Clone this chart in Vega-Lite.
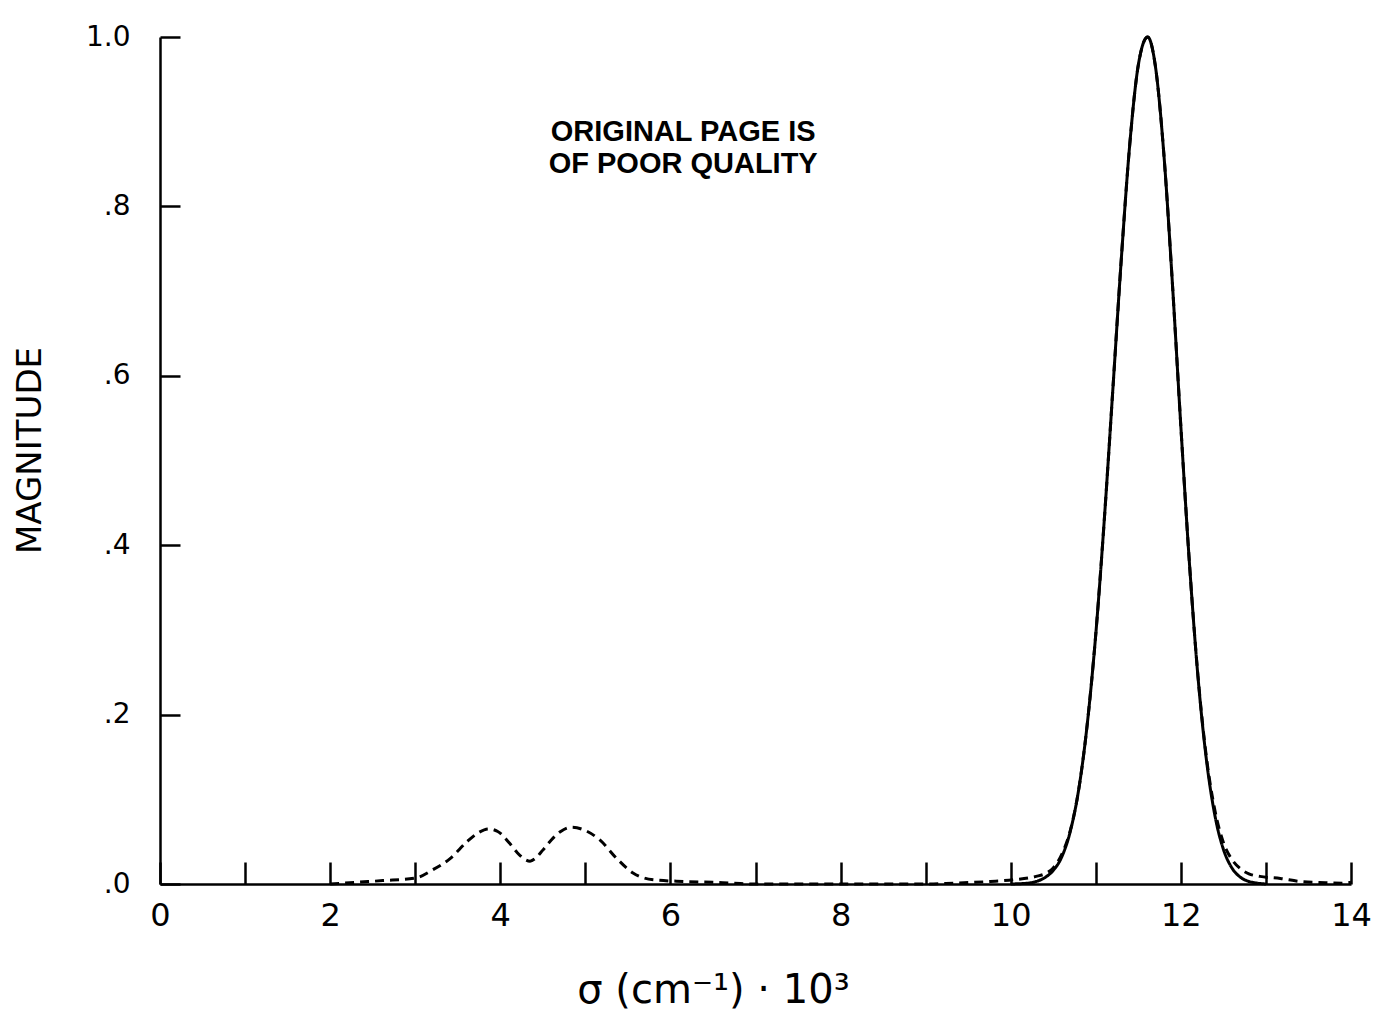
{
  "$schema": "https://vega.github.io/schema/vega-lite/v6.json",
  "autosize": "none",
  "width": 1191,
  "height": 847,
  "padding": {"left": 160, "top": 37, "right": 38, "bottom": 136},
  "background": "white",
  "config": {
    "view": {"stroke": null},
    "font": "DejaVu Sans",
    "axis": {"grid": false, "domainColor": "black", "tickColor": "black", "labelColor": "black", "titleColor": "black", "domainWidth": 2.5, "tickWidth": 2.5, "labelFont": "DejaVu Sans", "titleFont": "DejaVu Sans", "titleFontWeight": "normal"}
  },
  "datasets": {
    "curves": [
      {"series": "solid", "x": 10.0, "y": 0.0},
      {"series": "solid", "x": 10.2, "y": 0.001},
      {"series": "solid", "x": 10.3, "y": 0.003},
      {"series": "solid", "x": 10.4, "y": 0.0075},
      {"series": "solid", "x": 10.5, "y": 0.016},
      {"series": "solid", "x": 10.6, "y": 0.032},
      {"series": "solid", "x": 10.7, "y": 0.062},
      {"series": "solid", "x": 10.8, "y": 0.112},
      {"series": "solid", "x": 10.9, "y": 0.189},
      {"series": "solid", "x": 11.0, "y": 0.295},
      {"series": "solid", "x": 11.1, "y": 0.43},
      {"series": "solid", "x": 11.2, "y": 0.583},
      {"series": "solid", "x": 11.3, "y": 0.738},
      {"series": "solid", "x": 11.4, "y": 0.874},
      {"series": "solid", "x": 11.5, "y": 0.967},
      {"series": "solid", "x": 11.61, "y": 1.0},
      {"series": "solid", "x": 11.7, "y": 0.966},
      {"series": "solid", "x": 11.8, "y": 0.862},
      {"series": "solid", "x": 11.9, "y": 0.71},
      {"series": "solid", "x": 12.0, "y": 0.54},
      {"series": "solid", "x": 12.1, "y": 0.38},
      {"series": "solid", "x": 12.2, "y": 0.246},
      {"series": "solid", "x": 12.3, "y": 0.147},
      {"series": "solid", "x": 12.4, "y": 0.081},
      {"series": "solid", "x": 12.5, "y": 0.041},
      {"series": "solid", "x": 12.6, "y": 0.019},
      {"series": "solid", "x": 12.7, "y": 0.008},
      {"series": "solid", "x": 12.8, "y": 0.003},
      {"series": "solid", "x": 12.9, "y": 0.001},
      {"series": "solid", "x": 13.0, "y": 0.0},
      {"series": "dashed", "x": 2.0, "y": 0.0},
      {"series": "dashed", "x": 2.3, "y": 0.002},
      {"series": "dashed", "x": 2.62, "y": 0.004},
      {"series": "dashed", "x": 3.0, "y": 0.007},
      {"series": "dashed", "x": 3.21, "y": 0.017},
      {"series": "dashed", "x": 3.41, "y": 0.03},
      {"series": "dashed", "x": 3.61, "y": 0.05},
      {"series": "dashed", "x": 3.75, "y": 0.061},
      {"series": "dashed", "x": 3.86, "y": 0.065},
      {"series": "dashed", "x": 3.97, "y": 0.062},
      {"series": "dashed", "x": 4.11, "y": 0.048},
      {"series": "dashed", "x": 4.2, "y": 0.037},
      {"series": "dashed", "x": 4.29, "y": 0.029},
      {"series": "dashed", "x": 4.35, "y": 0.027},
      {"series": "dashed", "x": 4.41, "y": 0.03},
      {"series": "dashed", "x": 4.5, "y": 0.04},
      {"series": "dashed", "x": 4.6, "y": 0.052},
      {"series": "dashed", "x": 4.71, "y": 0.062},
      {"series": "dashed", "x": 4.84, "y": 0.067},
      {"series": "dashed", "x": 4.98, "y": 0.064},
      {"series": "dashed", "x": 5.17, "y": 0.052},
      {"series": "dashed", "x": 5.37, "y": 0.03},
      {"series": "dashed", "x": 5.56, "y": 0.013},
      {"series": "dashed", "x": 5.8, "y": 0.005},
      {"series": "dashed", "x": 6.15, "y": 0.003},
      {"series": "dashed", "x": 6.5, "y": 0.002},
      {"series": "dashed", "x": 6.74, "y": 0.001},
      {"series": "dashed", "x": 7.0, "y": 0.0},
      {"series": "dashed", "x": 8.0, "y": 0.0},
      {"series": "dashed", "x": 9.0, "y": 0.0},
      {"series": "dashed", "x": 9.33, "y": 0.001},
      {"series": "dashed", "x": 9.76, "y": 0.003},
      {"series": "dashed", "x": 10.03, "y": 0.005},
      {"series": "dashed", "x": 10.3, "y": 0.009},
      {"series": "dashed", "x": 10.4, "y": 0.012},
      {"series": "dashed", "x": 10.5, "y": 0.019},
      {"series": "dashed", "x": 10.6, "y": 0.035},
      {"series": "dashed", "x": 10.7, "y": 0.063},
      {"series": "dashed", "x": 10.8, "y": 0.112},
      {"series": "dashed", "x": 10.9, "y": 0.189},
      {"series": "dashed", "x": 11.0, "y": 0.295},
      {"series": "dashed", "x": 11.1, "y": 0.43},
      {"series": "dashed", "x": 11.2, "y": 0.583},
      {"series": "dashed", "x": 11.3, "y": 0.738},
      {"series": "dashed", "x": 11.4, "y": 0.874},
      {"series": "dashed", "x": 11.5, "y": 0.967},
      {"series": "dashed", "x": 11.61, "y": 1.0},
      {"series": "dashed", "x": 11.7, "y": 0.966},
      {"series": "dashed", "x": 11.8, "y": 0.862},
      {"series": "dashed", "x": 11.9, "y": 0.71},
      {"series": "dashed", "x": 12.0, "y": 0.54},
      {"series": "dashed", "x": 12.1, "y": 0.38},
      {"series": "dashed", "x": 12.2, "y": 0.247},
      {"series": "dashed", "x": 12.3, "y": 0.15},
      {"series": "dashed", "x": 12.4, "y": 0.087},
      {"series": "dashed", "x": 12.5, "y": 0.049},
      {"series": "dashed", "x": 12.6, "y": 0.029},
      {"series": "dashed", "x": 12.7, "y": 0.018},
      {"series": "dashed", "x": 12.8, "y": 0.012},
      {"series": "dashed", "x": 12.93, "y": 0.009},
      {"series": "dashed", "x": 13.17, "y": 0.0065},
      {"series": "dashed", "x": 13.4, "y": 0.003},
      {"series": "dashed", "x": 13.7, "y": 0.0015},
      {"series": "dashed", "x": 13.9, "y": 0.001},
      {"series": "dashed", "x": 14.0, "y": 0.002}
    ]
  },
  "layer": [
    {
      "data": {"name": "curves"},
      "mark": {"type": "line", "interpolate": "monotone", "color": "black", "strokeWidth": 3},
      "encoding": {
        "x": {
          "field": "x", "type": "quantitative",
          "scale": {"domain": [0, 14], "nice": false, "zero": false},
          "axis": {
            "title": "σ (cm⁻¹) · 10³",
            "values": [0, 1, 2, 3, 4, 5, 6, 7, 8, 9, 10, 11, 12, 13, 14],
            "labelExpr": "datum.value % 2 == 0 ? format(datum.value, 'd') : ''",
            "tickSize": -22,
            "labelPadding": 53,
            "labelFontSize": 32,
            "labelFlush": false,
            "labelBaseline": "middle",
            "titleFontSize": 40,
            "titleX": 553,
            "titleY": 118,
            "titleBaseline": "alphabetic",
            "titleAlign": "center"
          }
        },
        "y": {
          "field": "y", "type": "quantitative",
          "scale": {"domain": [0, 1], "nice": false},
          "axis": {
            "title": "MAGNITUDE",
            "values": [0, 0.2, 0.4, 0.6, 0.8, 1.0],
            "labelExpr": "datum.value == 1 ? '1.0' : '.' + format(datum.value * 10, 'd')",
            "tickSize": -20,
            "labelPadding": 50,
            "labelFontSize": 28,
            "labelFlush": false,
            "labelBaseline": "middle",
            "titleFontSize": 34,
            "titleX": -130,
            "titleY": 413,
            "titleBaseline": "middle",
            "titleAlign": "center",
            "titleAngle": -90
          }
        },
        "detail": {"field": "series"},
        "strokeDash": {
          "field": "series", "type": "nominal",
          "scale": {"domain": ["solid", "dashed"], "range": [[1, 0], [9, 6]]},
          "legend": null
        }
      }
    },
    {
      "data": {"values": [{}]},
      "mark": {"type": "text", "text": ["ORIGINAL PAGE IS", "OF POOR QUALITY"], "font": "Liberation Sans", "fontWeight": "bold", "fontSize": 29, "lineHeight": 32, "align": "center", "baseline": "middle", "color": "black"},
      "encoding": {
        "x": {"datum": 6.15, "type": "quantitative"},
        "y": {"datum": 0.888, "type": "quantitative"}
      }
    }
  ]
}
